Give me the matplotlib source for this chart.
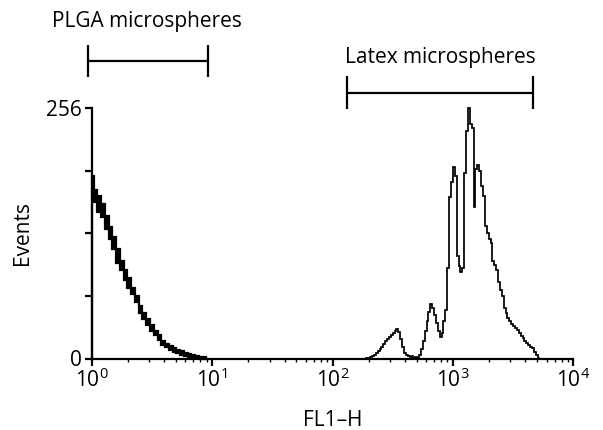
import numpy as np
import matplotlib
matplotlib.use("Agg")
import matplotlib.pyplot as plt
from matplotlib.ticker import FixedLocator, FixedFormatter, LogLocator, NullFormatter

plt.rcParams['font.family'] = ['Open Sans', 'DejaVu Sans']
plt.rcParams['mathtext.default'] = 'regular'

# FL1-H channel resolution: 256 channels over 4 decades (64 channels per decade)
channels_per_decade = 64

# PLGA microspheres histogram, counts per channel starting at channel 0
plga_start = 0
plga_counts = [186, 160, 172, 150, 166, 145, 158, 132, 146, 122,
               134, 112, 124, 98, 112, 90, 100, 80, 90, 72,
               82, 66, 72, 58, 64, 46, 54, 40, 46, 34,
               40, 28, 34, 24, 28, 19, 24, 14, 18, 12,
               15, 9, 13, 7, 11, 6, 9, 4, 8, 3,
               6, 2, 5, 2, 4, 1, 3, 1, 2, 0,
               2, 0]

# Latex microspheres histogram, counts per channel starting at channel 145
latex_start = 145
latex_counts = [0, 1, 1, 2, 3, 4, 6, 8, 10, 12,
                15, 18, 20, 22, 24, 26, 28, 30, 27, 20,
                12, 6, 4, 3, 2, 3, 1, 2, 1, 4,
                10, 18, 28, 38, 48, 56, 52, 44, 36, 28,
                22, 26, 38, 50, 92, 165, 180, 196, 186, 105,
                95, 88, 92, 190, 232, 256, 240, 236, 155, 194,
                198, 192, 176, 166, 135, 128, 122, 118, 100, 96,
                90, 78, 70, 64, 52, 46, 41, 38, 35, 33,
                31, 29, 26, 23, 21, 18, 16, 14, 12, 11,
                7, 4, 1, 0]

x_ticks = [1, 10, 100, 1000, 10000]
x_ticklabels = ['$10^{0}$', '$10^{1}$', '$10^{2}$', '$10^{3}$', '$10^{4}$']
y_ticks = [0, 64, 128, 192, 256]
y_ticklabels = ['0', '', '', '', '256']

# gate brackets (FL1-H ranges)
plga_gate = [0.94, 9.3]
latex_gate = [131, 4600]
plga_label = 'PLGA microspheres'
latex_label = 'Latex microspheres'


def edges_for(start, n):
    return 10 ** (np.arange(start, start + n + 1) / channels_per_decade)


W, H = 603, 430
FS = 15
fig = plt.figure(figsize=(W / 100, H / 100), dpi=100)
x0, x1 = 91.7, 573.3
y0, y1 = 358.5, 108.0
ax = fig.add_axes([x0 / W, (H - y0) / H, (x1 - x0) / W, (y0 - y1) / H])

ax.stairs(plga_counts, edges_for(plga_start, len(plga_counts)), baseline=0,
          color='black', linewidth=1.6, clip_on=False, zorder=3)
ax.stairs(latex_counts, edges_for(latex_start, len(latex_counts)), baseline=0,
          color='black', linewidth=1.25, clip_on=False, zorder=3)

ax.set_xscale('log')
ax.set_xlim(1, 10000)
ax.set_ylim(0, 256)

ax.xaxis.set_major_locator(FixedLocator(x_ticks))
ax.xaxis.set_major_formatter(FixedFormatter(x_ticklabels))
ax.xaxis.set_minor_locator(LogLocator(base=10, subs=np.arange(2, 10)))
ax.xaxis.set_minor_formatter(NullFormatter())
ax.yaxis.set_major_locator(FixedLocator(y_ticks))
ax.yaxis.set_major_formatter(FixedFormatter(y_ticklabels))

for s in ['top', 'right']:
    ax.spines[s].set_visible(False)
for s in ['left', 'bottom']:
    ax.spines[s].set_linewidth(1.6)

ax.tick_params(axis='both', which='major', direction='out', length=5, width=1.6,
               labelsize=FS, pad=2)
ax.tick_params(axis='x', which='minor', direction='out', length=2.5, width=1.0)

ax.set_xlabel('FL1\u2013H', fontsize=FS)
ax.xaxis.set_label_coords(0.5, (y0 - 420) / (y0 - y1))
ax.xaxis.label.set_va('center')
ax.set_ylabel('Events', fontsize=FS)
ax.yaxis.set_label_coords((22.5 - x0) / (x1 - x0), 0.5)
ax.yaxis.label.set_va('center')

# brackets (in data coordinates, outside axes area)
def ypx_to_data(py):
    return (y0 - py) / (y0 - y1) * 256

def bracket(xr, py_line, py_top, py_bot, lw=1.6):
    yl, yt, yb = ypx_to_data(py_line), ypx_to_data(py_top), ypx_to_data(py_bot)
    ax.plot(xr, [yl, yl], color='black', lw=lw, clip_on=False, solid_capstyle='butt')
    for xv in xr:
        ax.plot([xv, xv], [yt, yb], color='black', lw=lw, clip_on=False,
                solid_capstyle='butt')

bracket(plga_gate, 61, 45, 77)
bracket(latex_gate, 92.5, 75.5, 108.5)

fig.text(147 / W, 1 - 22 / H, plga_label, ha='center', va='center', fontsize=FS)
fig.text(440 / W, 1 - 57 / H, latex_label, ha='center', va='center', fontsize=FS)

fig.savefig('out.png', dpi=100)
